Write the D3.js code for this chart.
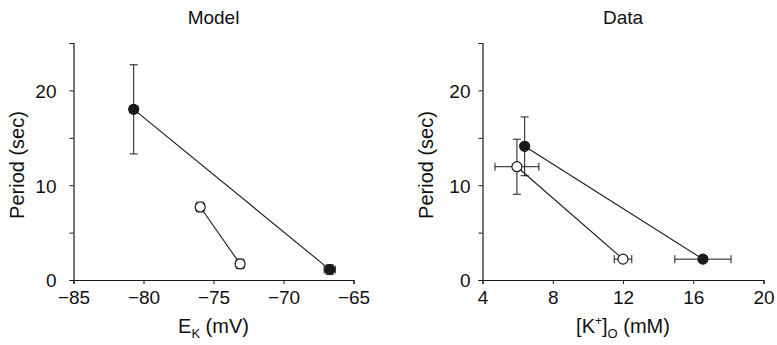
<!DOCTYPE html>
<html>
<head>
<meta charset="utf-8">
<script src="https://cdn.jsdelivr.net/npm/d3@7"></script>
<style>
  body { margin: 0; background: #fff; }
  svg { display: block; }
  text { font-family: "Liberation Sans", Arial, sans-serif; fill: #111; }
</style>
</head>
<body>
<script>
// Model panel: E_K (mV) vs period (sec)
const modelFilledX = [-80.7, -66.7]
const modelFilledY = [18.0, 1.1]
const modelFilledXErr = [0.3, 0.4]
const modelFilledYErr = [4.7, 0.5]
const modelOpenX = [-75.95, -73.1]
const modelOpenY = [7.7, 1.7]
const modelOpenXErr = [0.3, 0.3]
const modelOpenYErr = [0.5, 0.5]

// Data panel: [K+]o (mM) vs period (sec)
const dataFilledX = [6.4, 16.55]
const dataFilledY = [14.1, 2.2]
const dataFilledXErr = [0.15, 1.6]
const dataFilledYErr = [3.1, 0.3]
const dataOpenX = [5.96, 12.0]
const dataOpenY = [11.95, 2.2]
const dataOpenXErr = [1.25, 0.5]
const dataOpenYErr = [2.9, 0.3]

const modelXTicks = [-85, -80, -75, -70, -65]
const dataXTicks = [4, 8, 12, 16, 20]
const yTicks = [0, 5, 10, 15, 20, 25]
const yLabels = [0, 10, 20]

const width = 777
const height = 345
const ink = "#1a1a1a"

let svg = d3.select("body").append("svg")
    .attr("width", width)
    .attr("height", height)

function series(xs, ys, xe, ye) {
    return xs.map((x, i) => ({ x: x, y: ys[i], xe: xe[i], ye: ye[i] }))
}

function drawPanel(opts) {
    let g = svg.append("g")
    let x = d3.scaleLinear().domain(opts.xDomain).range(opts.xRange)
    let y = d3.scaleLinear().domain([0, 25]).range([280, 43])

    // axes
    let xAxis = d3.axisBottom(x).tickValues(opts.xTicks).tickSize(4).tickFormat(d => d < 0 ? "\u2212" + Math.abs(d) : d)
    let xg = g.append("g").attr("transform", "translate(0,280)").call(xAxis)
    let yAxis = d3.axisLeft(y).tickValues(yTicks).tickSize(4)
        .tickFormat(d => yLabels.includes(d) ? d : "")
    let yg = g.append("g").attr("transform", "translate(" + opts.xRange[0] + ",0)").call(yAxis)

    ;[xg, yg].forEach(a => {
        a.select(".domain").attr("stroke", ink).attr("stroke-width", 1.2)
        a.selectAll(".tick line").attr("stroke", ink).attr("stroke-width", 1)
        a.selectAll(".tick text").attr("font-size", 19).attr("fill", ink)
            .attr("font-family", "Liberation Sans, Arial, sans-serif")
    })
    xg.selectAll(".tick text").attr("dy", "0.92em")
    yg.selectAll(".tick text").attr("x", opts.yLabelGap).attr("dy", "0.36em")

    // titles
    g.append("text")
        .attr("x", (opts.xRange[0] + opts.xRange[1]) / 2)
        .attr("y", 24)
        .attr("text-anchor", "middle")
        .attr("font-size", 19)
        .text(opts.title)

    g.append("text")
        .attr("transform", "translate(" + (opts.xRange[0] - 50) + ",165) rotate(-90)")
        .attr("text-anchor", "middle")
        .attr("font-size", 20)
        .text("Period (sec)")

    let xl = g.append("text")
        .attr("x", (opts.xRange[0] + opts.xRange[1]) / 2)
        .attr("y", 333)
        .attr("text-anchor", "middle")
        .attr("font-size", 20)
    opts.xLabel(xl)

    // series: lines, error bars, markers
    opts.series.forEach(s => {
        let line = d3.line().x(d => x(d.x)).y(d => y(d.y))
        g.append("path")
            .datum(s.points)
            .attr("d", line)
            .attr("fill", "none")
            .attr("stroke", ink)
            .attr("stroke-width", 1.1)

        let cap = 4
        let eb = g.append("g").selectAll("g").data(s.points).enter().append("g")
            .attr("stroke", ink).attr("stroke-width", 1)
        // vertical error bars
        eb.append("line")
            .attr("x1", d => x(d.x)).attr("x2", d => x(d.x))
            .attr("y1", d => y(d.y - d.ye)).attr("y2", d => y(d.y + d.ye))
        eb.append("line")
            .attr("x1", d => x(d.x) - cap).attr("x2", d => x(d.x) + cap)
            .attr("y1", d => y(d.y + d.ye)).attr("y2", d => y(d.y + d.ye))
        eb.append("line")
            .attr("x1", d => x(d.x) - cap).attr("x2", d => x(d.x) + cap)
            .attr("y1", d => y(d.y - d.ye)).attr("y2", d => y(d.y - d.ye))
        // horizontal error bars
        eb.append("line")
            .attr("x1", d => x(d.x - d.xe)).attr("x2", d => x(d.x + d.xe))
            .attr("y1", d => y(d.y)).attr("y2", d => y(d.y))
        eb.append("line")
            .attr("x1", d => x(d.x - d.xe)).attr("x2", d => x(d.x - d.xe))
            .attr("y1", d => y(d.y) - cap).attr("y2", d => y(d.y) + cap)
        eb.append("line")
            .attr("x1", d => x(d.x + d.xe)).attr("x2", d => x(d.x + d.xe))
            .attr("y1", d => y(d.y) - cap).attr("y2", d => y(d.y) + cap)

        g.append("g").selectAll("circle").data(s.points).enter()
            .append("circle")
                .attr("cx", d => x(d.x))
                .attr("cy", d => y(d.y))
                .attr("r", 5)
                .attr("fill", s.filled ? ink : "#fff")
                .attr("stroke", ink)
                .attr("stroke-width", 1.2)
    })
}

drawPanel({
    title: "Model",
    xDomain: [-85, -65],
    xRange: [73.5, 353.5],
    xTicks: modelXTicks,
    yLabelGap: -17,
    xLabel: t => {
        t.append("tspan").text("E")
        t.append("tspan").attr("font-size", 13).attr("dy", 5).text("K")
        t.append("tspan").attr("dy", -5).text(" (mV)")
    },
    series: [
        { filled: true, points: series(modelFilledX, modelFilledY, modelFilledXErr, modelFilledYErr) },
        { filled: false, points: series(modelOpenX, modelOpenY, modelOpenXErr, modelOpenYErr) }
    ]
})

drawPanel({
    title: "Data",
    xDomain: [4, 20],
    xRange: [482.5, 763.5],
    xTicks: dataXTicks,
    yLabelGap: -12,
    xLabel: t => {
        t.append("tspan").text("[K")
        t.append("tspan").attr("font-size", 12).attr("dy", -8).text("+")
        t.append("tspan").attr("dy", 8).text("]")
        t.append("tspan").attr("font-size", 13).attr("dy", 5).text("O")
        t.append("tspan").attr("dy", -5).text(" (mM)")
    },
    series: [
        { filled: true, points: series(dataFilledX, dataFilledY, dataFilledXErr, dataFilledYErr) },
        { filled: false, points: series(dataOpenX, dataOpenY, dataOpenXErr, dataOpenYErr) }
    ]
})
</script>
</body>
</html>
